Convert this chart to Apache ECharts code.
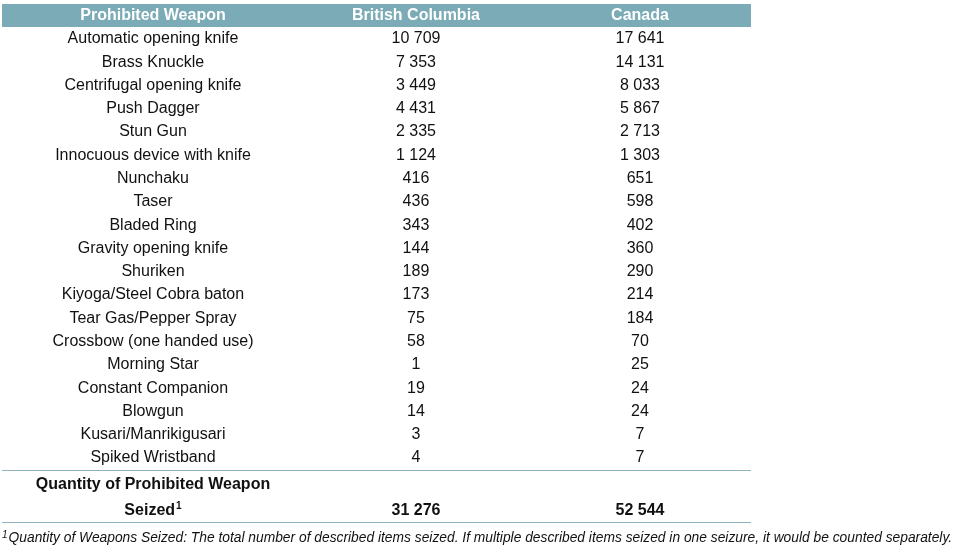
<!DOCTYPE html>
<html>
<head>
<meta charset="utf-8">
<script src="https://cdn.jsdelivr.net/npm/echarts@6/dist/echarts.min.js"></script>
<style>
  html, body { margin: 0; padding: 0; background: #fff; }
  #chart { width: 960px; height: 553px; }
</style>
</head>
<body>
<div id="chart"></div>
<script>
// table data
var headers = ['Prohibited Weapon', 'British Columbia', 'Canada']
var weapons = ['Automatic opening knife', 'Brass Knuckle', 'Centrifugal opening knife', 'Push Dagger', 'Stun Gun',
  'Innocuous device with knife', 'Nunchaku', 'Taser', 'Bladed Ring', 'Gravity opening knife', 'Shuriken',
  'Kiyoga/Steel Cobra baton', 'Tear Gas/Pepper Spray', 'Crossbow (one handed use)', 'Morning Star',
  'Constant Companion', 'Blowgun', 'Kusari/Manrikigusari', 'Spiked Wristband']
var bc = [10709, 7353, 3449, 4431, 2335, 1124, 416, 436, 343, 144, 189, 173, 75, 58, 1, 19, 14, 3, 4]
var canada = [17641, 14131, 8033, 5867, 2713, 1303, 651, 598, 402, 360, 290, 214, 184, 70, 25, 24, 24, 7, 7]
var totalLabel = ['Quantity of Prohibited Weapon', 'Seized']
var totals = [31276, 52544]
var footnote = 'Quantity of Weapons Seized: The total number of described items seized. If multiple described items seized in one seizure, it would be counted separately.'

// column centres (share of table width)
var colX = [0.2016, 0.5527, 0.8518]
var font = 'Liberation Sans, Arial, Helvetica, sans-serif'
var ink = '#111'

// 10709 -> "10 709"
function fmt (n) {
  return String(n).replace(/\B(?=(\d{3})+(?!\d))/g, ' ')
}

function textSeries (data, style) {
  return {
    type: 'scatter',
    symbolSize: 0,
    silent: true,
    itemStyle: { opacity: 1 },
    data: data,
    label: Object.assign({
      show: true,
      position: 'inside',
      align: 'center',
      verticalAlign: 'middle',
      fontFamily: font,
      fontSize: 16,
      color: ink,
      formatter: function (p) { return p.value[2] }
    }, style)
  }
}

var headerData = headers.map(function (h, i) { return [colX[i], 0, h] })
var rowData = []
weapons.forEach(function (w, i) {
  rowData.push([colX[0], i + 1, w])
  rowData.push([colX[1], i + 1, fmt(bc[i])])
  rowData.push([colX[2], i + 1, fmt(canada[i])])
})
var totalRow = weapons.length + 2.24
var totalData = [
  [colX[0], weapons.length + 1.15, totalLabel[0]],
  [colX[0], totalRow, '{b|' + totalLabel[1] + '}{sup|1}'],
  [colX[1], totalRow, fmt(totals[0])],
  [colX[2], totalRow, fmt(totals[1])]
]

var chart = echarts.init(document.getElementById('chart'))
chart.setOption({
  animation: false,
  title: {
    left: 2,
    top: 530,
    padding: 0,
    text: '{sup|1}{it|' + footnote + '}',
    textStyle: {
      fontWeight: 'normal',
      rich: {
        it: { fontFamily: font, fontSize: 13.8, fontStyle: 'italic', fontWeight: 'normal', color: ink },
        sup: { fontFamily: font, fontSize: 10, fontStyle: 'italic', fontWeight: 'normal', color: ink, padding: [0, 1, 6, 0] }
      }
    }
  },
  grid: { left: 2, right: 209, top: 4, bottom: 13.5 },
  xAxis: { type: 'value', min: 0, max: 1, show: false },
  yAxis: { type: 'value', min: -0.5, max: 22.5, inverse: true, show: false },
  series: [
    Object.assign(textSeries(headerData, { color: '#fff', fontWeight: 'bold' }), {
      z: 3,
      markArea: {
        silent: true,
        itemStyle: { color: '#7aabb6', opacity: 1 },
        data: [[{ yAxis: -0.55 }, { yAxis: 0.49 }]]
      }
    }),
    textSeries(rowData, {}),
    Object.assign(textSeries(totalData, {
      fontWeight: 'bold',
      rich: {
        b: { fontFamily: font, fontSize: 16, fontWeight: 'bold', color: ink },
        sup: { fontFamily: font, fontSize: 10, fontWeight: 'bold', color: ink, padding: [0, 0, 7, 1] }
      }
    }), {
      markLine: {
        silent: true,
        symbol: 'none',
        label: { show: false },
        lineStyle: { color: '#8fb3bf', width: 1.2, type: 'solid', opacity: 1 },
        data: [{ yAxis: weapons.length + 0.52 }, { yAxis: weapons.length + 2.75 }]
      }
    })
  ]
})
</script>
</body>
</html>
